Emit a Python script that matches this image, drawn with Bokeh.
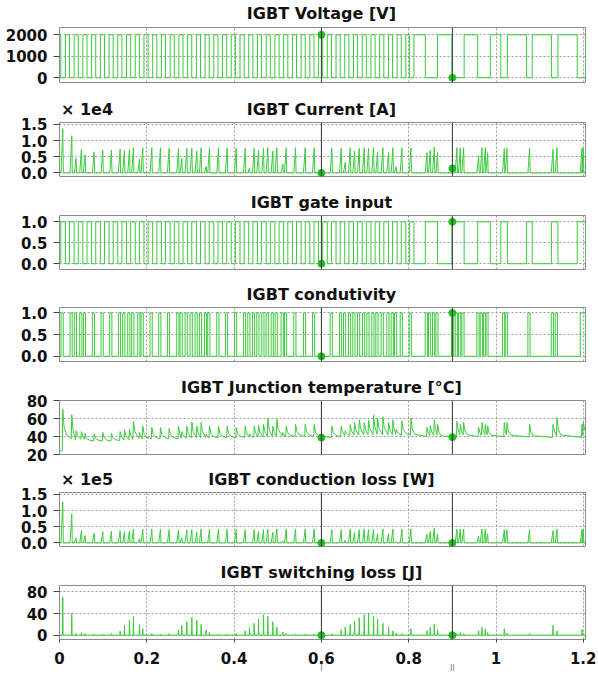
from bokeh.plotting import figure
from bokeh.layouts import column
from bokeh.models import (Range1d, FixedTicker, Span, CustomJSTickFormatter,
                          PrintfTickFormatter, LinearAxis)
from bokeh.embed import file_html
from bokeh.resources import INLINE

# ---------------- data ----------------
# switching events (times, s)
ev_t = [0.0075, 0.0281, 0.038, 0.0503, 0.0587, 0.0793, 0.0992, 0.119, 0.1389, 0.1488,
        0.1603, 0.1694, 0.1832, 0.1908, 0.2115, 0.2313, 0.2512, 0.2726, 0.2802, 0.2917,
        0.3032, 0.3146, 0.3245, 0.336, 0.3436, 0.3643, 0.3841, 0.4048, 0.4254, 0.4353,
        0.446, 0.456, 0.4674, 0.4773, 0.4888, 0.498, 0.5117, 0.5194, 0.5407, 0.5629,
        0.5835, 0.624, 0.6454, 0.6546, 0.666, 0.676, 0.6867, 0.6981, 0.7081, 0.7195,
        0.7287, 0.7409, 0.7539, 0.7638, 0.7715, 0.7845, 0.8051, 0.8418, 0.8494, 0.8586,
        0.8662, 0.9105, 0.9182, 0.9258, 0.9602, 0.9678, 0.9755, 0.9808, 1.019, 1.0251,
        1.077, 1.1306, 1.1397, 1.197, 1.2]
# IGBT current peaks [A]
current_pk = [13700, 11500, 4500, 7300, 5600, 6500, 7000, 7100, 7300, 7000,
              7300, 7800, 4200, 7800, 7800, 7800, 7600, 7600, 4500, 7600,
              7600, 6800, 7800, 2000, 7800, 7800, 7800, 7600, 7600, 1500,
              7600, 7000, 7600, 7800, 6800, 7800, 2800, 7800, 7800, 7800,
              7800, 7600, 7600, 3300, 7800, 6800, 7600, 7800, 7600, 7800,
              6300, 7800, 6300, 7800, 1900, 7800, 7800, 6300, 7000, 8000,
              6300, 7800, 7800, 7800, 5300, 7800, 7800, 6300, 7600, 7600,
              7600, 7300, 7800, 7600, 7800]
# conduction loss peaks [W]
cond_loss_pk = [127000, 90000, 15000, 38000, 23000, 30000, 35000, 36000, 38000, 35000,
                38000, 43000, 13000, 43000, 43000, 43000, 41000, 41000, 15000, 41000,
                41000, 33000, 43000, 3000, 43000, 43000, 43000, 41000, 41000, 2000,
                41000, 35000, 41000, 43000, 33000, 43000, 6000, 43000, 43000, 43000,
                43000, 41000, 41000, 8000, 43000, 33000, 41000, 43000, 41000, 43000,
                28000, 43000, 28000, 43000, 3000, 43000, 43000, 28000, 35000, 45000,
                28000, 43000, 43000, 43000, 20000, 43000, 43000, 28000, 41000, 41000,
                41000, 38000, 43000, 41000, 43000]
# switching loss per event [J]
sw_loss = [70, 40, 3, 5, 3, 2, 2, 3, 8, 18,
           28, 35, 20, 12, 3, 2, 3, 10, 18, 25,
           33, 28, 20, 10, 5, 2, 2, 3, 8, 14,
           22, 30, 38, 35, 25, 15, 6, 3, 2, 2,
           2, 3, 10, 15, 20, 26, 32, 38, 40, 35,
           30, 22, 15, 8, 4, 3, 12, 8, 15, 20,
           10, 3, 5, 3, 8, 15, 12, 5, 12, 4,
           3, 18, 8, 10, 3]
# junction temperature: peak at each event and level just before it [degC]
temp_pk = [70.5, 64, 46.5, 45.5, 43.5, 43, 44.5, 43.5, 45.5, 47.5,
           48, 57, 44.5, 51.5, 50, 50, 49, 51.5, 45.5, 51.5,
           56, 51.5, 55.5, 43, 51.5, 51.5, 51.5, 50, 51.5, 43,
           51.5, 52.5, 53.5, 60.5, 51.5, 59, 44.5, 51.5, 53.5, 53.5,
           53.5, 51.5, 51.5, 46.5, 53.5, 55.5, 58.5, 55.5, 58.5, 64,
           60.5, 62, 55.5, 58.5, 48, 57, 60.5, 50, 52, 58.5,
           53.5, 57, 53.5, 55.5, 50, 55.5, 53.5, 52, 55.5, 55.5,
           53.5, 53.5, 61, 53.5, 55.5]
temp_base = [24, 37.5, 36, 37, 37, 35, 35, 35, 35.5, 36,
             36.5, 37, 38, 37.5, 37.5, 37.5, 37.5, 37.5, 38, 38,
             38.5, 38.5, 38.5, 39, 38.5, 38.5, 38.5, 38.5, 39, 39.5,
             39, 39.5, 39.5, 40, 40, 40, 40.5, 40, 40, 40,
             40, 39, 40, 41, 41, 41.5, 41.5, 42, 42, 42,
             42.5, 42, 42, 42, 42.5, 41.5, 41.5, 40, 41, 41.5,
             42, 39, 42, 42, 40, 41.5, 42, 42, 40, 42,
             39.5, 39, 41, 39, 41]
temp_start = 24
temp_end = 42

# gate on / off instants [s]
gate_on = [0.003, 0.023, 0.043, 0.063, 0.083, 0.103, 0.123, 0.143, 0.163, 0.183,
           0.203, 0.223, 0.243, 0.263, 0.283, 0.303, 0.323, 0.343, 0.363, 0.383,
           0.403, 0.423, 0.443, 0.463, 0.483, 0.503, 0.523, 0.543, 0.563, 0.583,
           0.603, 0.623, 0.643, 0.663, 0.683, 0.703, 0.723, 0.743, 0.763, 0.783,
           0.802, 0.838, 0.899, 0.958, 1.011, 1.070, 1.127, 1.186]
gate_off = [0.0135, 0.0335, 0.0535, 0.0735, 0.0935, 0.1135, 0.1335, 0.1535, 0.1735, 0.1935,
            0.2135, 0.2335, 0.2535, 0.2735, 0.2935, 0.3135, 0.3335, 0.3535, 0.3735, 0.3935,
            0.4135, 0.4335, 0.4535, 0.4735, 0.4935, 0.5135, 0.5335, 0.5535, 0.5735, 0.5935,
            0.6135, 0.6335, 0.6535, 0.6735, 0.6935, 0.7135, 0.7335, 0.7535, 0.7735, 0.7935,
            0.812, 0.866, 0.927, 0.987, 1.026, 1.083, 1.142, 1.205]
dc_voltage = 2000

# conductivity on / off instants [s]
cond_on = [0.0035, 0.0241, 0.034, 0.0463, 0.0547, 0.0753, 0.0952, 0.115, 0.1349, 0.1448,
           0.1563, 0.1654, 0.1792, 0.1868, 0.2075, 0.2273, 0.2472, 0.2686, 0.2762, 0.2877,
           0.2992, 0.3106, 0.3205, 0.332, 0.3396, 0.3603, 0.3801, 0.4008, 0.4214, 0.4313,
           0.442, 0.452, 0.4634, 0.4733, 0.4848, 0.494, 0.5077, 0.5154, 0.5367, 0.5589,
           0.5795, 0.62, 0.6414, 0.6506, 0.662, 0.672, 0.6827, 0.6941, 0.7041, 0.7155,
           0.7247, 0.7369, 0.7499, 0.7598, 0.7675, 0.7805, 0.8011, 0.8378, 0.8454, 0.8546,
           0.8622, 0.898, 0.9065, 0.9142, 0.9218, 0.9562, 0.9638, 0.9715, 0.9768, 1.015,
           1.0211, 1.073, 1.1266, 1.1357, 1.193]
cond_off = [0.0085, 0.0291, 0.039, 0.0513, 0.0597, 0.0803, 0.1002, 0.12, 0.1399, 0.1498,
            0.1613, 0.1704, 0.1842, 0.1918, 0.2125, 0.2323, 0.2522, 0.2736, 0.2812, 0.2927,
            0.3042, 0.3156, 0.3255, 0.337, 0.3446, 0.3653, 0.3851, 0.4058, 0.4264, 0.4363,
            0.447, 0.457, 0.4684, 0.4783, 0.4898, 0.499, 0.5127, 0.5204, 0.5417, 0.5639,
            0.5845, 0.625, 0.6464, 0.6556, 0.667, 0.677, 0.6877, 0.6991, 0.7091, 0.7205,
            0.7297, 0.7419, 0.7549, 0.7648, 0.7725, 0.7855, 0.8061, 0.8428, 0.8504, 0.8596,
            0.8672, 0.903, 0.9115, 0.9192, 0.9268, 0.9612, 0.9688, 0.9765, 0.9818, 1.020,
            1.0261, 1.078, 1.1316, 1.1407, 1.205]

# cursors and the values marked on them
cursor_t = [0.6, 0.9]
cursor_labels = ["I", "II"]
mark_voltage = [2000, 0]
mark_current = [0, 1400]
mark_gate = [0, 1]
mark_cond = [0, 1]
mark_temp = [38.8, 39.3]
mark_closs = [0, 0]
mark_sloss = [0, 0]

x_ticks = [0.0, 0.2, 0.4, 0.6, 0.8, 1.0, 1.2]

# ---------------- styling ----------------
FONT = "DejaVu Sans"
GREEN = "#3ccb3c"
DOT = "#1fbf1f"
X_END = 1.205
FRAME_W = 526
LEFT = 59
RIGHT = 11
FRAME_H = 57
TITLE_X = 0.6
SCI_X = 0.063


def step_xy(on, off, lo, hi):
    xs, ys = [0.0], [lo]
    for a, b in zip(on, off):
        xs += [a, a, b, b]
        ys += [lo, hi, hi, lo]
    xs.append(X_END)
    ys.append(lo)
    return xs, ys


def spike_xy(times, peaks, wl, wr):
    xs, ys = [0.0], [0.0]
    for t, h in zip(times, peaks):
        xs += [t - wl, t, t + wr]
        ys += [0, h, 0]
    xs.append(X_END)
    ys.append(0)
    return xs, ys


def temp_xy(times, peaks, bases):
    xs, ys = [0.0], [temp_start]
    n = len(times)
    for i in range(n):
        t, P, B = times[i], peaks[i], bases[i]
        nxt = times[i + 1] if i + 1 < n else X_END + 0.02
        Bn = bases[i + 1] if i + 1 < n else temp_end
        gap = nxt - t
        xs += [t - 0.0012, t]
        ys += [B, P]
        d1 = min(0.003, gap / 3)
        xs.append(t + d1)
        ys.append(Bn + 0.4 * (P - Bn))
        if gap > 0.016:
            xs.append(t + 0.009)
            ys.append(Bn + 0.12 * (P - Bn))
    return xs, ys


def style_text_axis(ax, size, color="#111111", bold=True):
    ax.axis_line_color = None
    ax.major_tick_line_color = None
    ax.minor_tick_line_color = None
    ax.major_tick_in = 0
    ax.major_tick_out = 0
    ax.major_label_text_font = FONT
    ax.major_label_text_font_style = "bold" if bold else "normal"
    ax.major_label_text_font_size = size
    ax.major_label_text_color = color


def make_fig(title, y0, y1, yticks, top, bottom, t_standoff, last=False, fmt=None, sci=None):
    p = figure(width=LEFT + FRAME_W + RIGHT, height=top + FRAME_H + bottom,
               x_range=Range1d(0, X_END), y_range=Range1d(y0, y1),
               output_backend="svg", toolbar_location=None,
               min_border_left=LEFT, min_border_right=RIGHT, min_border_top=top,
               min_border_bottom=bottom)
    p.outline_line_color = "#8a8a8a"
    p.outline_line_width = 1
    p.yaxis.ticker = FixedTicker(ticks=yticks)
    xax = p.xaxis[0]
    xax.ticker = FixedTicker(ticks=x_ticks)
    p.xgrid.ticker = FixedTicker(ticks=x_ticks)
    if fmt is not None:
        p.yaxis.formatter = fmt
    for ax in (p.yaxis[0], xax):
        ax.axis_line_color = None
        ax.major_tick_in = 0
        ax.minor_tick_line_color = None
        ax.major_tick_line_color = "#444444"
        ax.major_label_text_font = FONT
        ax.major_label_text_font_style = "bold"
        ax.major_label_text_font_size = "15px"
        ax.major_label_text_color = "#111111"
    p.yaxis.major_tick_out = 6
    p.yaxis.major_label_standoff = 6
    xax.major_tick_out = 3
    xax.major_label_standoff = 9
    xax.visible = last
    for g in (p.xgrid, p.ygrid):
        g.grid_line_color = "#9a9a9a"
        g.grid_line_dash = "2 2"
        g.grid_line_width = 1

    # title row (and the scale marker) drawn as labels of an axis above the frame
    ticks = [TITLE_X] if sci is None else [SCI_X, TITLE_X]
    top_ax = LinearAxis(ticker=FixedTicker(ticks=ticks),
                        formatter=CustomJSTickFormatter(args=dict(t=title, s=sci or ""),
                                                        code="return tick < 0.3 ? s : t;"))
    style_text_axis(top_ax, "16px")
    top_ax.major_label_standoff = t_standoff
    p.add_layout(top_ax, "above")

    if last:
        cur = LinearAxis(ticker=FixedTicker(ticks=cursor_t),
                         formatter=CustomJSTickFormatter(args=dict(c=cursor_t, l=cursor_labels),
                                                         code="return l[c.indexOf(tick)];"))
        style_text_axis(cur, "8px", color="#777777", bold=False)
        cur.major_label_standoff = -3
        p.add_layout(cur, "below")

    for c in cursor_t:
        p.add_layout(Span(location=c, dimension="height", line_color="#333333", line_width=1))
    return p


figs = []

# Voltage
p = make_fig("IGBT Voltage [V]", -222, 2342, [0, 1000, 2000], 25, 14, 5)
xs, ys = step_xy(gate_on, gate_off, dc_voltage, 0)
p.line(xs, ys, line_color=GREEN, line_width=1)
p.scatter(cursor_t, mark_voltage, size=7, color=DOT)
figs.append(p)

# Current
p = make_fig("IGBT Current [A]", -1100, 15600, [0, 5000, 10000, 15000], 23, 13, 4,
             fmt=CustomJSTickFormatter(code="return (tick/1e4).toFixed(1);"), sci="× 1e4")
xs, ys = spike_xy(ev_t, current_pk, 0.004, 0.0012)
p.line(xs, ys, line_color=GREEN, line_width=1)
p.scatter(cursor_t, mark_current, size=7, color=DOT)
figs.append(p)

# Gate
p = make_fig("IGBT gate input", -0.137, 1.15, [0, 0.5, 1.0], 23, 12, 4,
             fmt=PrintfTickFormatter(format="%.1f"))
xs, ys = step_xy(gate_on, gate_off, 0, 1)
p.line(xs, ys, line_color=GREEN, line_width=1)
p.scatter(cursor_t, mark_gate, size=7, color=DOT)
figs.append(p)

# Conductivity
p = make_fig("IGBT condutivity", -0.12, 1.126, [0, 0.5, 1.0], 23, 13, 4,
             fmt=PrintfTickFormatter(format="%.1f"))
xs, ys = step_xy(cond_on, cond_off, 0, 1)
p.line(xs, ys, line_color=GREEN, line_width=1)
p.scatter(cursor_t, mark_cond, size=7, color=DOT)
figs.append(p)

# Temperature
p = make_fig("IGBT Junction temperature [°C]", 20, 80, [20, 40, 60, 80], 23, 12, 4)
xs, ys = temp_xy(ev_t, temp_pk, temp_base)
p.line(xs, ys, line_color=GREEN, line_width=1)
p.scatter(cursor_t, mark_temp, size=7, color=DOT)
figs.append(p)

# Conduction loss
p = make_fig("IGBT conduction loss [W]", -11000, 156000, [0, 50000, 100000, 150000], 23, 13, 4,
             fmt=CustomJSTickFormatter(code="return (tick/1e5).toFixed(1);"), sci="× 1e5")
xs, ys = spike_xy(ev_t, cond_loss_pk, 0.004, 0.0012)
p.line(xs, ys, line_color=GREEN, line_width=1)
p.scatter(cursor_t, mark_closs, size=7, color=DOT)
figs.append(p)

# Switching loss
p = make_fig("IGBT switching loss [J]", -8, 92, [0, 40, 80], 23, 36, 4, last=True)
xs, ys = spike_xy(ev_t, sw_loss, 0.0008, 0.0008)
p.line(xs, ys, line_color=GREEN, line_width=1)
p.scatter(cursor_t, mark_sloss, size=7, color=DOT)
figs.append(p)

layout = column(*figs, spacing=0)
open("out.html", "w").write(file_html(layout, INLINE))
